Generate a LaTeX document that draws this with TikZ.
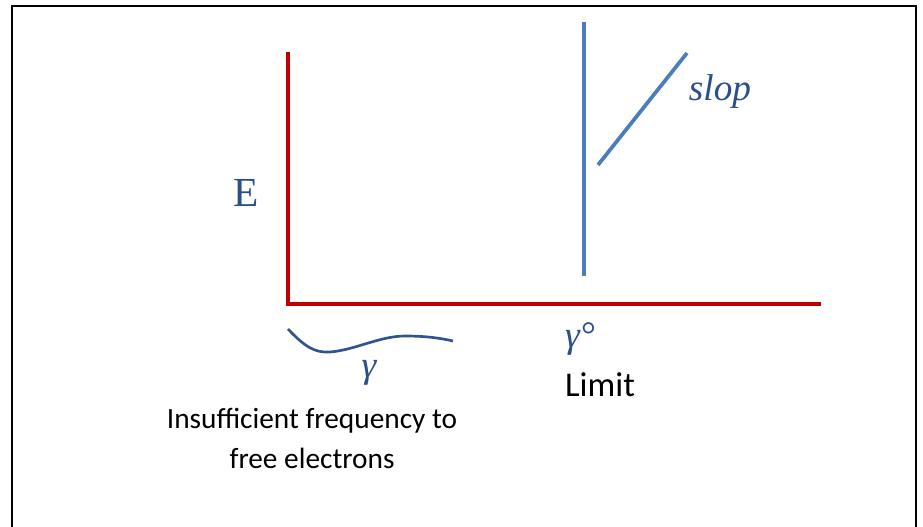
\documentclass[tikz,border=0pt]{standalone}
\usepackage{fontspec}
\setmainfont{Carlito}
\newfontfamily\symserif{Liberation Serif}
\usetikzlibrary{positioning}
\definecolor{axisred}{HTML}{C00000}
\definecolor{lineblue}{HTML}{4A7EBB}
\definecolor{mathblue}{HTML}{2B4F8C}
\definecolor{curveblue}{HTML}{2F5490}
\begin{document}
\begin{tikzpicture}[x=0.75pt,y=-0.75pt,
 axis/.style={axisred,line width=3pt},
 bluerule/.style={lineblue,line width=2.8pt},
 wave/.style={curveblue,line width=2pt},
 mathlbl/.style={text=mathblue,inner sep=0pt,font=\symserif\itshape\fontsize{28}{32}\selectfont},
 textlbl/.style={text=black,inner sep=0pt,font=\fontsize{22}{30}\selectfont}]
\useasboundingbox (0,0) rectangle (923,527);
% frame
\draw[line width=1.5pt] (11.5,540) |- (916,6.5) -- (916,540);
% axes
\coordinate (origin) at (287.5,304);
\coordinate (ytop) at (287.5,52);
\coordinate (xend) at (821,304);
\draw[axis] (ytop) -- (origin) -- (xend);
% limit line and slope
\coordinate (limtop) at (584,22);
\coordinate (limbot) at (584,276);
\coordinate (slopelow) at (598,165);
\coordinate (slopehigh) at (687,53);
\draw[bluerule] (limtop) -- (limbot);
\draw[bluerule] (slopelow) -- (slopehigh);
% wavy mark under the axis
\coordinate (wavestart) at (288,329);
\coordinate (waveend) at (453,341);
\draw[wave] (wavestart) .. controls (305,347) and (315,353) .. (330,352)
 .. controls (355,350) and (380,336) .. (405,336)
 .. controls (425,336) and (440,338) .. (waveend);
% labels
\node[mathlbl,font=\symserif\fontsize{31}{34}\selectfont] (elabel) at (246,193) {E};
\node[mathlbl] (slopelbl) at (720,92) {slop};
\node[mathlbl] (gamma) at (369,373) {γ};
\node[mathlbl] (gammazero) at (580,339) {γ°};
\node[textlbl,font=\fontsize{26}{30}\selectfont] (limit) at (600,385) {Limit};
\node[textlbl,align=center] (reason) at (312,438) {Insufficient frequency to\\free electrons};
\end{tikzpicture}
\end{document}
